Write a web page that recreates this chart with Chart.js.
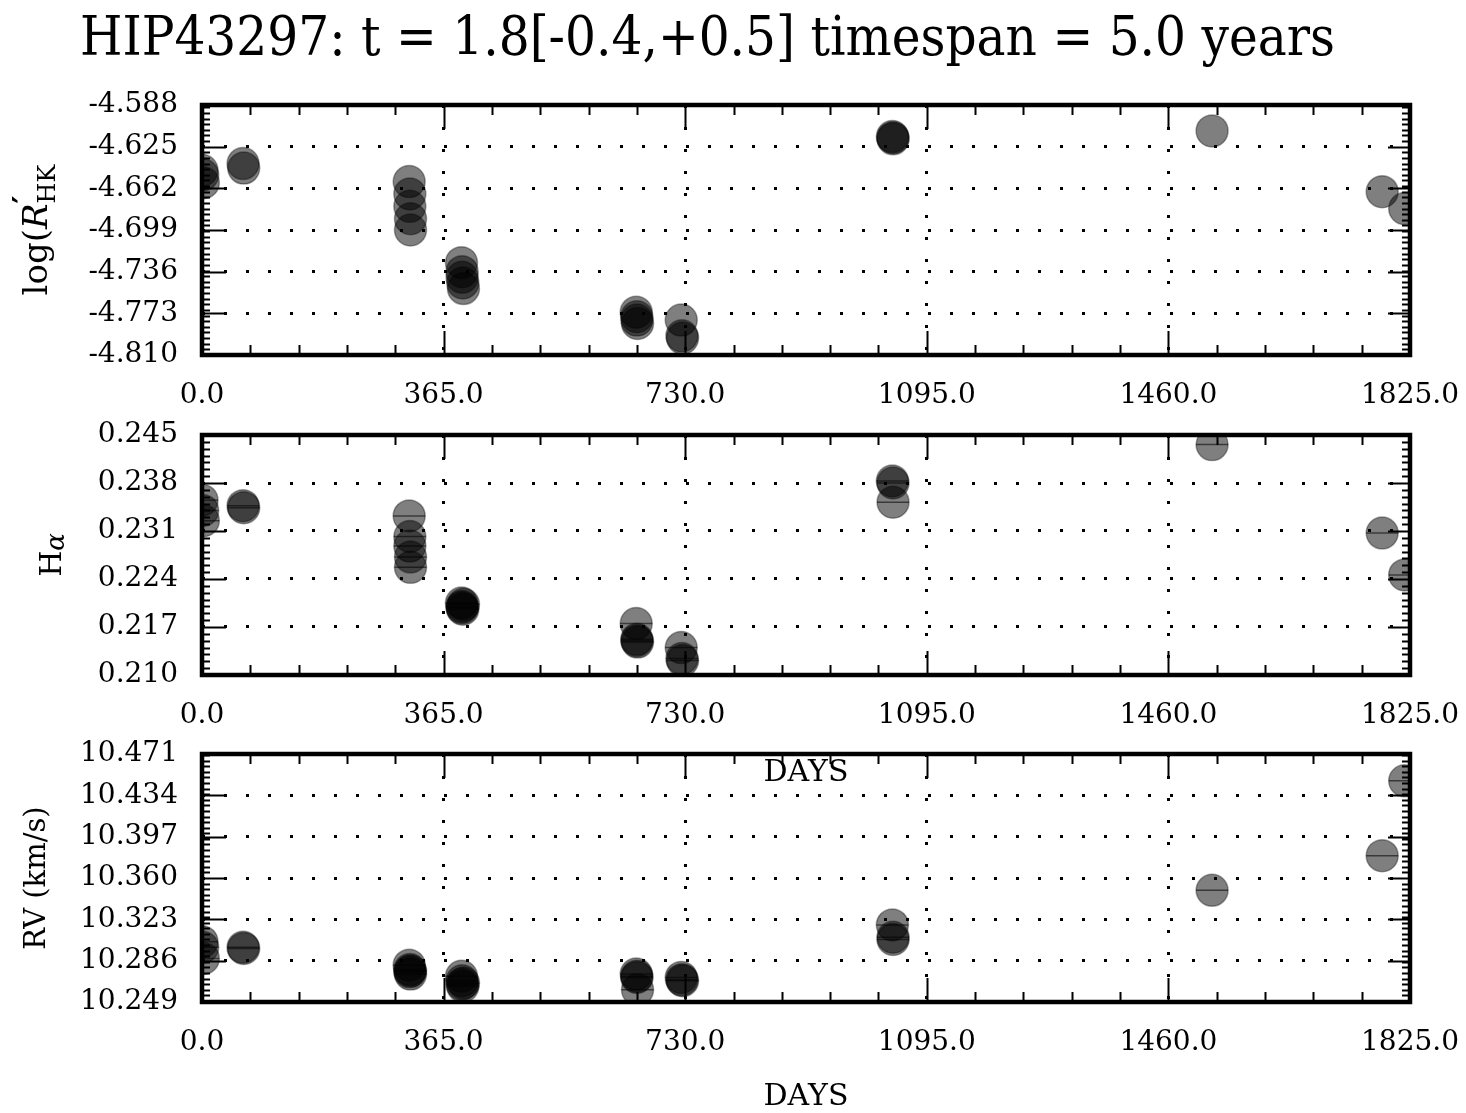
<!DOCTYPE html>
<html>
<head>
<meta charset="utf-8">
<script src="https://cdn.jsdelivr.net/npm/chart.js@4.4.1/dist/chart.umd.min.js"></script>
<style>
  body { margin: 0; background: #fff; width: 1466px; height: 1113px; position: relative; overflow: hidden; }
  canvas { position: absolute; left: 0; }
</style>
</head>
<body>
<canvas id="c1" width="1466" height="420" style="top:0px"></canvas>
<canvas id="c3" width="1466" height="389" style="top:724px"></canvas>
<canvas id="c2" width="1466" height="385" style="top:405px"></canvas>
<script>
// observation days (since first epoch)
var days = [0, 1, 2, 62, 63, 313, 314, 314, 315, 315, 392, 393, 393, 394, 395,
            656, 657, 657, 658, 724, 725, 726, 1043, 1044, 1044, 1526, 1783, 1817];

var logRhk = [-4.646, -4.650, -4.657, -4.640, -4.644, -4.656, -4.667, -4.678, -4.689, -4.699,
              -4.728, -4.736, -4.741, -4.746, -4.751, -4.772, -4.776, -4.779, -4.782,
              -4.779, -4.793, -4.795, -4.616, -4.618, -4.617, -4.611, -4.665, -4.680];

var halpha = [0.2355, 0.2340, 0.2325, 0.2347, 0.2344, 0.2332, 0.2302, 0.2288, 0.2272, 0.2257,
              0.2205, 0.2200, 0.2198, 0.2196, 0.2203, 0.2175, 0.2152, 0.2150, 0.2148,
              0.2140, 0.2124, 0.2121, 0.2383, 0.2380, 0.2352, 0.2436, 0.2307, 0.2246];

var rv = [10.303, 10.298, 10.288, 10.298, 10.297, 10.282, 10.278, 10.276, 10.274, 10.277,
          10.272, 10.268, 10.265, 10.263, 10.266, 10.274, 10.272, 10.271, 10.260,
          10.271, 10.269, 10.268, 10.318, 10.307, 10.305, 10.349, 10.380, 10.447];

var dayTicks = [0, 365, 730, 1095, 1460, 1825];
var rhkTicks = [-4.810, -4.773, -4.736, -4.699, -4.662, -4.625, -4.588];
var haTicks = [0.210, 0.217, 0.224, 0.231, 0.238, 0.245];
var rvTicks = [10.249, 10.286, 10.323, 10.360, 10.397, 10.434, 10.471];

var titleText = 'HIP43297: t = 1.8[-0.4,+0.5] timespan = 5.0 years';

Chart.defaults.font.family = 'DejaVu Serif';
Chart.defaults.color = '#000';

function pts(ys) {
  return days.map(function (d, i) { return { x: d, y: ys[i] }; });
}

// frame, inward ticks, axis titles
var decor = {
  id: 'decor',
  afterDatasetsDraw: function (chart, args, o) {
    var ctx = chart.ctx, a = chart.chartArea;
    var xs = chart.scales.x, ys = chart.scales.y;
    ctx.save();
    ctx.strokeStyle = '#000';
    ctx.lineWidth = 2;
    ctx.beginPath();
    // x ticks top and bottom
    for (var d = 0; d <= 1825; d += 73) {
      var px = Math.round(xs.getPixelForValue(d)) + 0.5;
      var len = dayTicks.indexOf(d) >= 0 ? 24 : 10;
      ctx.moveTo(px, a.top); ctx.lineTo(px, a.top + len);
      ctx.moveTo(px, a.bottom); ctx.lineTo(px, a.bottom - len);
    }
    // y minor ticks
    var k0 = Math.ceil(ys.min / o.yMinor - 1e-6), k1 = Math.floor(ys.max / o.yMinor + 1e-6);
    for (var k = k0; k <= k1; k++) {
      var py = Math.round(ys.getPixelForValue(k * o.yMinor)) + 0.5;
      ctx.moveTo(a.left, py); ctx.lineTo(a.left + 8, py);
      ctx.moveTo(a.right, py); ctx.lineTo(a.right - 8, py);
    }
    // y major ticks
    o.yTicks.forEach(function (v) {
      var py = Math.round(ys.getPixelForValue(v)) + 0.5;
      ctx.moveTo(a.left, py); ctx.lineTo(a.left + 24, py);
      ctx.moveTo(a.right, py); ctx.lineTo(a.right - 22, py);
    });
    ctx.stroke();
    ctx.lineWidth = 4.5;
    ctx.strokeRect(a.left, a.top, a.right - a.left, a.bottom - a.top);

    ctx.fillStyle = '#000';
    // y axis title (rotated, pieces with super/subscripts)
    ctx.save();
    ctx.translate(o.yTitleX, (a.top + a.bottom) / 2);
    ctx.rotate(-Math.PI / 2);
    ctx.textBaseline = 'alphabetic';
    var total = 0, prev = 0;
    o.yTitle.forEach(function (p) {
      ctx.font = p.font;
      p.w = ctx.measureText(p.t).width;
      if (p.stack) { total += Math.max(0, p.w - prev); } else { total += p.w; prev = p.w; }
    });
    var x = -total / 2, lastX = x, lastW = 0;
    o.yTitle.forEach(function (p) {
      ctx.font = p.font;
      if (p.stack) {
        ctx.fillText(p.t, lastX, (p.dy || 0) + 11);
        x = lastX + Math.max(lastW, p.w);
      } else {
        ctx.fillText(p.t, x, (p.dy || 0) + 11);
        lastX = x; lastW = p.w;
        x += p.w;
      }
    });
    ctx.restore();

    if (o.xTitleY) {
      ctx.font = '30px DejaVu Serif';
      ctx.textAlign = 'center';
      ctx.textBaseline = 'middle';
      ctx.fillText('DAYS', (a.left + a.right) / 2, o.xTitleY);
    }
    if (o.mainTitle) {
      ctx.font = '54px DejaVu Serif';
      var w = ctx.measureText(o.mainTitle).width;
      ctx.translate(80, 55);
      ctx.scale(1255 / w, 1);
      ctx.textAlign = 'left';
      ctx.textBaseline = 'alphabetic';
      ctx.fillText(o.mainTitle, 0, 0);
    }
    ctx.restore();
  }
};

function panel(id, ys, yTicks, pad, decorOpts, withBars) {
  var datasets = [{
    data: pts(ys),
    pointRadius: 16,
    pointHoverRadius: 16,
    backgroundColor: 'rgba(0,0,0,0.5)',
    borderColor: 'rgba(0,0,0,0.35)',
    borderWidth: 1.5,
    clip: 0
  }];
  if (withBars) {
    datasets.push({
      data: pts(ys),
      pointStyle: 'line',
      pointRadius: 16,
      pointHoverRadius: 16,
      borderColor: 'rgba(0,0,0,0.55)',
      borderWidth: 1.5,
      clip: 0
    });
  }
  decorOpts.yTicks = yTicks;
  return new Chart(document.getElementById(id), {
    type: 'scatter',
    data: { datasets: datasets },
    options: {
      responsive: false,
      animation: false,
      events: [],
      layout: { padding: { left: 0, right: 56, top: pad[0], bottom: pad[1] } },
      plugins: { legend: { display: false }, tooltip: { enabled: false }, decor: decorOpts },
      scales: {
        x: {
          type: 'linear',
          min: 0, max: 1825,
          afterBuildTicks: function (s) { s.ticks = dayTicks.map(function (v) { return { value: v }; }); },
          afterFit: function (s) {
            s.height = 50;
            s.paddingLeft = 0; s.paddingRight = 0; s.paddingTop = 0; s.paddingBottom = 0;
          },
          ticks: {
            font: { size: 28 },
            padding: 24,
            maxRotation: 0,
            callback: function (v) { return Number(v).toFixed(1); }
          },
          grid: { color: '#000', lineWidth: 3, drawTicks: false },
          border: { display: false, dash: [3, 19] }
        },
        y: {
          type: 'linear',
          min: yTicks[0], max: yTicks[yTicks.length - 1],
          afterBuildTicks: function (s) { s.ticks = yTicks.map(function (v) { return { value: v }; }); },
          afterFit: function (s) {
            s.width = 202;
            s.paddingLeft = 0; s.paddingRight = 0; s.paddingTop = 0; s.paddingBottom = 0;
          },
          ticks: {
            font: { size: 28, lineHeight: 1 },
            padding: 24,
            callback: function (v) { return Number(v).toFixed(3); }
          },
          grid: { color: '#000', lineWidth: 3, drawTicks: false },
          border: { display: false, dash: [3, 19] }
        }
      }
    },
    plugins: [decor]
  });
}

panel('c1', logRhk, rhkTicks, [105, 15], {
  yMinor: 0.005, yTitleX: 36, mainTitle: titleText,
  yTitle: [
    { t: 'log(', font: '34px DejaVu Serif' },
    { t: 'R', font: 'italic 34px DejaVu Serif' },
    { t: '\u2032', font: 'bold 30px DejaVu Serif', dy: -13 },
    { t: 'HK', font: '24px DejaVu Serif', dy: 8, stack: true }
  ]
}, false);

panel('c2', halpha, haTicks, [30, 65], {
  yMinor: 0.001, yTitleX: 50, xTitleY: 368,
  yTitle: [
    { t: 'H', font: '30px DejaVu Serif' },
    { t: '\u03b1', font: 'italic 26px DejaVu Serif', dy: 3 }
  ]
}, true);

panel('c3', rv, rvTicks, [30, 61], {
  yMinor: 0.005, yTitleX: 34, xTitleY: 373,
  yTitle: [
    { t: 'RV (km/s)', font: '29px DejaVu Serif' }
  ]
}, true);
</script>
</body>
</html>
